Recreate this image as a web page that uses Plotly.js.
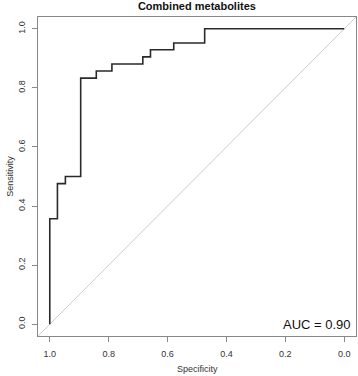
<!DOCTYPE html>
<html>
<head>
<meta charset="utf-8">
<script src="https://cdn.plot.ly/plotly-3.0.1.min.js"></script>
<style>html,body{margin:0;padding:0;background:#fff;}#chart{width:358px;height:376px;}</style>
</head>
<body>
<div id="chart"></div>
<script>
// ROC corner points (specificity, sensitivity), drawn as steps
const specificity = [1.0, 0.974, 0.947, 0.895, 0.842, 0.789, 0.684, 0.658, 0.579, 0.474, 0.0];
const sensitivity = [0.0, 0.357, 0.476, 0.500, 0.833, 0.857, 0.881, 0.905, 0.929, 0.952, 1.0];
const diagX = [1.04, -0.04];
const diagY = [-0.04, 1.04];
const tickVals = [0.0, 0.2, 0.4, 0.6, 0.8, 1.0];
const tickText = ["0.0", "0.2", "0.4", "0.6", "0.8", "1.0"];
const chartTitle = "Combined metabolites";
const aucLabel = "AUC = 0.90";

const font = "Liberation Sans, Arial, sans-serif";
const traces = [
  {x: diagX, y: diagY, mode: "lines", line: {color: "#cccccc", width: 1}, hoverinfo: "skip"},
  {x: specificity, y: sensitivity, mode: "lines", line: {color: "#2a2a2a", width: 1.6, shape: "vh"}}
];
const axisCommon = {
  showgrid: false, zeroline: false, showline: true, mirror: true,
  linecolor: "#888888", linewidth: 1.3, ticks: "outside", ticklen: 5,
  tickcolor: "#888888", tickwidth: 1, tickvals: tickVals, ticktext: tickText,
  tickfont: {family: font, size: 9, color: "#333"}
};
const layout = {
  width: 358, height: 376, showlegend: false,
  paper_bgcolor: "#fff", plot_bgcolor: "#fff",
  margin: {l: 38, r: 2, t: 17, b: 40},
  title: {text: "<b>" + chartTitle + "</b>", font: {family: font, size: 11, color: "#111"},
          x: 0.55, xanchor: "center", y: 1 - 6.5/376, yanchor: "middle"},
  xaxis: Object.assign({}, axisCommon, {range: [1.04, -0.04], ticklabelstandoff: 4}),
  yaxis: Object.assign({}, axisCommon, {range: [-0.04, 1.04], tickangle: -90, ticklabelstandoff: 3}),
  annotations: [
    {text: "Specificity", xref: "paper", yref: "paper", x: 0.5, y: -0.1034, yanchor: "middle",
     showarrow: false, font: {family: font, size: 9, color: "#333"}},
    {text: "Sensitivity", xref: "paper", yref: "paper", x: -0.0903, y: 0.5, xanchor: "center", yanchor: "middle",
     textangle: -90, showarrow: false, font: {family: font, size: 9, color: "#333"}},
    {text: aucLabel, xref: "paper", yref: "y", x: 0.99, y: 0.0, xanchor: "right", yanchor: "middle",
     showarrow: false, font: {family: font, size: 13, color: "#111"}}
  ]
};
Plotly.newPlot("chart", traces, layout, {displayModeBar: false, staticPlot: true});
</script>
</body>
</html>
